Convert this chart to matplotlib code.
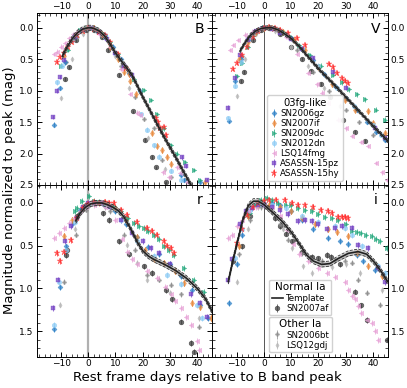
import numpy as np
import matplotlib
matplotlib.use('Agg')
import matplotlib.pyplot as plt
from matplotlib.ticker import MultipleLocator, FormatStrFormatter

bands = ['B', 'V', 'r', 'i']

# templates (normal Ia), day vs mag
tmpl_B = [(-9.5, 0.45), (-8, 0.32), (-6, 0.18), (-4, 0.08), (-2, 0.02), (0, 0.0), (1, 0.0), (2, 0.01),
          (4, 0.05), (6, 0.13), (8, 0.26), (10, 0.40), (12, 0.52), (14, 0.63), (16, 0.75), (18, 0.92),
          (20, 1.10), (22, 1.26), (25, 1.51), (28, 1.75), (30, 1.90), (33, 2.13), (35, 2.29), (38, 2.52)]
tmpl_V = [(-8.8, 0.37), (-7, 0.24), (-5, 0.12), (-3, 0.05), (-1, 0.01), (1, 0.0), (3, 0.0), (5, 0.03),
          (7, 0.08), (10, 0.17), (13, 0.30), (16, 0.45), (20, 0.65), (25, 0.87), (30, 1.10), (35, 1.33),
          (40, 1.56), (45.5, 1.80)]
tmpl_r = [(-4.6, 0.21), (-3, 0.12), (-1, 0.05), (1, 0.01), (3, 0.0), (5, 0.0), (7, 0.02), (9, 0.05),
          (11, 0.09), (13, 0.16), (15, 0.27), (16.5, 0.36), (18, 0.46), (20, 0.56), (22, 0.62), (24, 0.66),
          (28, 0.72), (32, 0.79), (36, 0.88), (40, 1.0), (43, 1.12), (45.5, 1.27)]
tmpl_i = [(-13.1, 0.92), (-11.3, 0.66), (-9.4, 0.41), (-7.6, 0.18), (-5.7, 0.03), (-3.9, -0.02),
          (-2.1, -0.02), (0, 0.02), (2.8, 0.10), (6.5, 0.21), (10.2, 0.35), (13.2, 0.49), (15.7, 0.61),
          (18.1, 0.68), (21.2, 0.72), (24.2, 0.71), (27.3, 0.65), (31, 0.59), (34.6, 0.57), (37.7, 0.60),
          (40.7, 0.70), (43.2, 0.81), (45.4, 0.92)]
tmpl_err = {'B': 0.04, 'V': 0.03, 'r': 0.03, 'i': 0.03}

# 03fg-like
sn2006gz_B = [(-12.7, 1.54), (-10.5, 0.96), (-8.5, 0.55), (-6, 0.2), (-3, 0.05), (0, 0.0), (3, 0.03), (6, 0.12),
              (9, 0.3), (12, 0.5), (15, 0.72), (19, 1.0), (33.9, 2.34), (35.2, 2.42), (41, 2.45)]
sn2006gz_V = [(-12.8, 1.48), (-10.5, 0.85), (-8.5, 0.5), (-6, 0.2), (-3, 0.06), (0, 0.01), (3, 0.0), (6, 0.05),
              (10, 0.16), (14, 0.33), (18, 0.52), (22, 0.74), (26, 0.93), (30, 1.12), (34, 1.3), (38, 1.5),
              (41.2, 1.65), (44.3, 1.78)]
sn2006gz_r = [(-12.6, 1.48), (-10.4, 0.99), (-8.3, 0.51), (-6, 0.25), (-3, 0.08), (0, 0.02), (3, 0.0), (6, 0.02),
              (10, 0.1), (14, 0.25), (18, 0.4), (22, 0.52), (26, 0.6), (30, 0.72), (34, 0.85), (38, 1.02),
              (41.2, 1.2), (44, 1.35)]
sn2006gz_i = [(-12.8, 1.17), (-10, 0.72), (-8.2, 0.37), (-6, 0.15), (-3, 0.03), (0, 0.0), (3, 0.0), (6, 0.03),
              (10, 0.1), (14, 0.2), (18, 0.3), (23.6, 0.41), (28, 0.45), (31, 0.48), (34, 0.61), (36.5, 0.68),
              (40.7, 0.78), (43.8, 0.84)]

sn2007if_B = [(-9, 0.45), (-6, 0.2), (-2, 0.03), (2, 0.0), (5, 0.1), (8, 0.3), (11, 0.5), (13.3, 0.7),
              (14.8, 0.74), (15.4, 0.85), (17.4, 1.05), (23.4, 1.67), (25.2, 1.88), (27.2, 1.95), (29, 2.05),
              (30.2, 2.16), (43, 2.45)]
sn2007if_V = [(-9, 0.5), (-6, 0.22), (-3, 0.07), (0, 0.0), (3, 0.0), (7, 0.07), (11, 0.19), (15, 0.36),
              (20, 0.62), (25, 0.9), (29.7, 1.15), (33.4, 1.3), (38.2, 1.33), (40, 1.51), (44.4, 1.67)]
sn2007if_r = [(-8.9, 0.39), (-6, 0.2), (-2, 0.05), (2, 0.0), (6, 0.0), (10, 0.06), (14, 0.2), (18, 0.4),
              (21, 0.55), (24.1, 0.66), (27.8, 0.7), (32, 0.8), (35.1, 0.94), (38.2, 1.17), (41, 1.22),
              (44.9, 1.35)]
sn2007if_i = [(-9, 0.5), (-6, 0.15), (-2, 0.03), (2, 0.02), (6, 0.05), (10, 0.1), (14, 0.18), (18.7, 0.25),
              (23.6, 0.31), (27, 0.34), (31, 0.39), (34, 0.59), (38.3, 0.74), (43.2, 0.86)]

sn2009dc_B = [(-10, 0.6), (-7.5, 0.35), (-5, 0.12), (-3, 0.04), (-1, 0.0), (1, 0.0), (3, 0.02), (5, 0.08),
              (8, 0.22), (11, 0.42), (14, 0.62), (16.8, 0.81), (20.4, 0.99), (22.9, 1.15), (25.3, 1.37),
              (27.8, 1.6), (30.2, 1.87), (32.7, 2.0), (35.7, 2.13), (38.8, 2.26), (41.2, 2.42)]
sn2009dc_V = [(-10, 0.77), (-8.2, 0.56), (-6, 0.3), (-4, 0.13), (-2, 0.04), (0, -0.01), (2, -0.02), (4, 0.0),
              (7, 0.06), (10, 0.15), (13, 0.27), (16.8, 0.43), (21, 0.6), (25.3, 0.75), (28.5, 0.87),
              (31.4, 0.98), (34, 1.06), (37, 1.14), (41, 1.3), (44.5, 1.46)]
sn2009dc_r = [(-5, 0.1), (-4, 0.06), (-2.2, -0.02), (0.2, -0.08), (2, -0.02), (4, -0.01), (6, 0.0), (9, 0.04),
              (12, 0.1), (14.5, 0.18), (16.8, 0.23), (18.5, 0.27), (20.4, 0.29), (22, 0.33), (24.1, 0.37),
              (26, 0.42), (27.8, 0.51), (29.5, 0.55), (31.4, 0.61), (35.1, 0.76), (38.8, 0.9), (42.4, 1.04)]
sn2009dc_i = [(-5.1, 0.12), (-3, 0.02), (-1, -0.03), (1, -0.06), (3, -0.03), (5.3, 0.0), (8, 0.02), (10, 0.03),
              (12.6, 0.06), (15, 0.08), (17.5, 0.1), (20, 0.13), (22.4, 0.16), (25, 0.18), (27.3, 0.2),
              (30, 0.25), (32.2, 0.33), (34, 0.34), (35.8, 0.35), (37.5, 0.37), (39.5, 0.39), (41, 0.42),
              (42.6, 0.45), (45, 0.53)]

sn2012dn_B = [(-11.4, 0.87), (-9.8, 0.6), (-6, 0.2), (-2, 0.03), (2, 0.01), (6, 0.15), (10, 0.4), (13, 0.62),
              (19.2, 1.37), (21.5, 1.62), (24.1, 1.87), (26, 2.05), (30.2, 2.27), (34, 2.42)]
sn2012dn_V = [(-13.1, 1.43), (-10.6, 0.93), (-8.5, 0.55), (-5, 0.15), (-1, 0.01), (3, 0.0), (8, 0.1),
              (14, 0.32), (20, 0.6), (27, 0.95), (33, 1.25), (40, 1.55), (43, 1.7)]
sn2012dn_r = [(-12.6, 1.43), (-10.8, 0.92), (-8.3, 0.55), (-5, 0.22), (-2, 0.06), (2, 0.0), (6, 0.03),
              (12, 0.2), (18, 0.45), (24, 0.62), (29, 0.84), (34, 0.95), (40, 1.19), (41.8, 1.35)]
sn2012dn_i = [(-10.6, 0.64), (-8, 0.3), (-5, 0.08), (-1, 0.01), (3, 0.02), (8, 0.06), (14, 0.15), (20, 0.22),
              (26, 0.27), (29.7, 0.29), (32.2, 0.37), (36, 0.5), (42, 0.74), (44.4, 0.82)]

lsq14fmg_B = [(-12.6, 0.42), (-11.5, 0.38), (-10, 0.3), (-8.5, 0.24), (-7, 0.17), (-5.5, 0.1), (-4, 0.06),
              (4, 0.1), (8, 0.3), (12, 0.65), (15.5, 1.05), (17.8, 1.35), (19, 1.38), (27.5, 2.3),
              (29.5, 2.38), (32.5, 2.22), (33.7, 2.31), (36.2, 2.45)]
lsq14fmg_V = [(-12.5, 0.35), (-11.3, 0.27), (-9.4, 0.19), (-7, 0.11), (-4.5, 0.06), (-2, 0.02), (3, 0.02),
              (8, 0.15), (12, 0.42), (16.3, 0.72), (19.3, 0.9), (21.2, 1.03), (23.6, 1.19), (27.3, 1.46),
              (30, 1.6), (32.2, 1.72), (35.8, 1.82), (38.3, 1.88), (41.3, 2.15), (43.2, 2.3), (45, 2.42)]
lsq14fmg_r = [(-12.6, 0.41), (-10.8, 0.35), (-8.9, 0.29), (-7.1, 0.23), (-5.3, 0.18), (-3, 0.1), (-1, 0.05),
              (2, 0.02), (6, 0.05), (10, 0.2), (12.5, 0.42), (14.3, 0.57), (16.1, 0.66), (18, 0.72),
              (21.7, 0.8), (25.3, 0.88), (28, 0.98), (30.2, 1.07), (32, 1.15), (33.9, 1.23), (35.8, 1.33),
              (37.6, 1.43), (40, 1.62), (40.6, 1.72)]
lsq14fmg_i = [(-13.1, 0.41), (-11.9, 0.37), (-10, 0.27), (-8.2, 0.2), (-5.7, 0.1), (-3, 0.05), (0, 0.03),
              (3, 0.05), (6, 0.15), (8.5, 0.32), (10.8, 0.48), (13, 0.6), (16.3, 0.68), (20, 0.76), (23, 0.82),
              (26, 0.87), (29.7, 0.92), (31, 1.02), (32.2, 1.09), (33.4, 1.13), (34.6, 1.21), (35.8, 1.29),
              (37.7, 1.37), (39.5, 1.41), (40.7, 1.5), (42, 1.6)]

asassn15pz_B = [(-12.8, 1.42), (-11.4, 1.0), (-10.2, 0.78), (-8.9, 0.52), (-5, 0.14), (-2, 0.03), (1, 0.0),
                (4, 0.06), (7, 0.18), (10, 0.4), (13, 0.6), (16, 0.75), (34.4, 2.06), (36, 2.2), (43.5, 2.42)]
asassn15pz_V = [(-13.3, 1.27), (-10.6, 0.8), (-8.8, 0.43), (-6, 0.2), (-3, 0.05), (0, 0.0), (3, 0.02),
                (6, 0.08), (10, 0.18), (14, 0.33), (18, 0.48), (25.3, 0.7), (30, 0.95), (40.6, 1.59),
                (44.3, 1.75)]
asassn15pz_r = [(-12.8, 1.23), (-11.1, 0.9), (-8.5, 0.45), (-6.5, 0.27), (-4, 0.18), (-2, 0.05), (0, 0.0),
                (2, 0.0), (5, 0.0), (8, 0.05), (12, 0.2), (16, 0.35), (20, 0.45), (22.9, 0.53), (25.9, 0.59),
                (30, 0.72), (37.6, 1.07), (41.2, 1.17), (43.7, 1.33)]
asassn15pz_i = [(-13.3, 0.9), (-11.6, 0.66), (-8.8, 0.25), (-6.5, 0.1), (-4.5, 0.06), (-2, 0.02), (0, 0.02),
                (3, 0.05), (5.9, 0.08), (9, 0.13), (12.6, 0.21), (15, 0.2), (17.5, 0.21), (20, 0.25),
                (23, 0.31), (26, 0.29), (28.5, 0.27), (32.2, 0.29), (34.6, 0.49), (38.3, 0.53), (42, 0.76),
                (44.4, 0.92)]

asassn15hy_B = [(-11.4, 0.54), (-10.5, 0.46), (-9, 0.4), (-7.5, 0.3), (-6, 0.22), (-4, 0.12), (-2, 0.05),
                (0, 0.01), (2, 0.02), (4, 0.06), (6, 0.12), (8, 0.23), (11, 0.42), (14, 0.64), (24.7, 1.44),
                (25.5, 1.5), (26.5, 1.6), (27.8, 1.58), (28.4, 1.71)]
asassn15hy_V = [(-11.3, 0.66), (-10, 0.56), (-8.2, 0.43), (-6.4, 0.3), (-4, 0.14), (-2, 0.05), (0, 0.01),
                (2, -0.01), (4, 0.0), (6, 0.03), (9, 0.08), (12, 0.16), (15, 0.27), (24, 0.58), (25.5, 0.63),
                (27, 0.72), (28.5, 0.8), (29.7, 0.84), (31, 0.88)]
asassn15hy_r = [(-11.4, 0.59), (-10.2, 0.68), (-8.9, 0.57), (-6.5, 0.43), (-4, 0.18), (-2, 0.06), (0, 0.01),
                (2, -0.01), (4, 0.0), (6, -0.01), (7.5, 0.0), (9.4, 0.0), (12, 0.08), (14.3, 0.14),
                (18, 0.22), (21.7, 0.29), (23.5, 0.33), (25.3, 0.37), (27.8, 0.45), (29, 0.5), (30.2, 0.53),
                (31.4, 0.59)]
asassn15hy_i = [(-10, 0.47), (-8.2, 0.31), (-6.4, 0.14), (-4, 0.05), (-2, 0.0), (0, -0.02), (2, -0.03),
                (4.6, -0.04), (7.7, -0.04), (10.2, 0.0), (12.5, 0.02), (15, 0.03), (18, 0.05), (21, 0.08),
                (23.6, 0.1), (25, 0.12), (27.3, 0.16), (28.5, 0.17), (29.7, 0.16), (31, 0.18)]

# normal Ia
sn2007af_B = [(-8.4, 0.81), (-7.2, 0.62), (-4.4, 0.19), (-1, 0.03), (2, 0.03), (5, 0.15), (7.4, 0.35),
              (11.3, 0.75), (16.4, 1.33), (20.7, 1.79), (23.5, 2.06), (25, 2.22), (28.4, 2.46)]
sn2007af_V = [(-8.3, 0.85), (-7.3, 0.7), (-4, 0.2), (-1, 0.03), (2, 0.0), (6, 0.1), (10, 0.3), (14, 0.5),
              (17.4, 0.68), (21, 0.9), (24.2, 1.1), (29, 1.46), (33.3, 1.66), (37, 1.8)]
sn2007af_r = [(-8.3, 0.61), (-7.7, 0.55), (-4, 0.15), (-1, 0.03), (3, 0.0), (5.5, 0.12), (7.6, 0.2),
              (11.3, 0.45), (15, 0.6), (20.4, 0.74), (23.5, 0.82), (28.4, 1.02), (30.8, 1.13), (33.9, 1.39),
              (37.6, 1.64), (38.8, 1.74)]
sn2007af_i = [(-11.3, 0.68), (-8.2, 0.51), (-5, 0.15), (-2, 0.03), (1, 0.05), (4, 0.18), (5.9, 0.27),
              (8, 0.36), (10.2, 0.45), (14, 0.58), (17.5, 0.63), (20, 0.65), (23, 0.61), (24.8, 0.63),
              (28, 0.72), (33.4, 1.04), (35.5, 1.2), (37.7, 1.37), (45, 1.6)]

# other Ia
sn2006bt_B = [(-8, 0.55), (-4, 0.15), (0, 0.02), (5, 0.12), (12, 0.6), (17, 1.1), (20.3, 1.45), (24, 1.6),
              (27, 2.1), (30.2, 2.37)]
sn2006bt_V = [(-8, 0.45), (-4, 0.1), (0, 0.0), (5, 0.05), (12, 0.35), (18, 0.7), (24, 1.0), (30, 1.3),
              (35, 1.5), (40, 1.7)]
sn2006bt_r = [(-8.9, 0.92), (-4.6, 0.37), (-1, 0.08), (3, 0.0), (8, 0.1), (13.1, 0.37), (17, 0.55),
              (21.7, 0.84), (26, 0.9), (30.2, 0.96), (33.9, 1.07), (40.6, 1.45)]
sn2006bt_i = [(-9, 0.6), (-5, 0.2), (-1, 0.05), (3, 0.1), (6, 0.25), (8.9, 0.43), (13.8, 0.59), (17, 0.66),
              (21.2, 0.68), (26, 0.67), (29.7, 0.68), (32.2, 0.7), (34.6, 0.9), (38, 1.05), (42.6, 1.19)]

lsq12gdj_B = [(-9.9, 1.12), (-6, 0.5), (-2, 0.1), (3, 0.05), (10, 0.45), (15, 0.95), (22, 1.75), (28, 2.25)]
lsq12gdj_V = [(-10, 1.09), (-7, 0.5), (-3, 0.1), (4, 0.05), (10, 0.3), (16, 0.6), (22, 0.95), (28, 1.25)]
lsq12gdj_r = [(-10.2, 1.19), (-5, 0.3), (0, 0.05), (6, 0.05), (14.3, 0.49), (18, 0.7), (21.7, 0.9),
              (30, 1.05), (40.6, 1.35)]
lsq12gdj_i = [(-10, 0.92), (-6, 0.3), (-2, 0.05), (3, 0.1), (7, 0.3), (10.2, 0.53), (14.4, 0.74),
              (17.5, 0.82), (25, 0.75), (30, 0.72), (35.2, 0.82), (43.2, 1.02)]

fg_names = ['SN2006gz', 'SN2007if', 'SN2009dc', 'SN2012dn', 'LSQ14fmg', 'ASASSN-15pz', 'ASASSN-15hy']
fg_data = [
    [sn2006gz_B, sn2006gz_V, sn2006gz_r, sn2006gz_i],
    [sn2007if_B, sn2007if_V, sn2007if_r, sn2007if_i],
    [sn2009dc_B, sn2009dc_V, sn2009dc_r, sn2009dc_i],
    [sn2012dn_B, sn2012dn_V, sn2012dn_r, sn2012dn_i],
    [lsq14fmg_B, lsq14fmg_V, lsq14fmg_r, lsq14fmg_i],
    [asassn15pz_B, asassn15pz_V, asassn15pz_r, asassn15pz_i],
    [asassn15hy_B, asassn15hy_V, asassn15hy_r, asassn15hy_i],
]
fg_colors = ['#2a7fc6', '#e8873a', '#1fa67a', '#8ccbf5', '#e7a1d6', '#7442c4', '#ff2b2b']
fg_markers = ['D', 'd', '>', 'o', '<', 's', '*']
fg_ms = [2.6, 3.4, 3.3, 3.3, 3.3, 3.2, 5]

other_names = ['SN2007af', 'SN2006bt', 'LSQ12gdj']
other_data = [
    [sn2007af_B, sn2007af_V, sn2007af_r, sn2007af_i],
    [sn2006bt_B, sn2006bt_V, sn2006bt_r, sn2006bt_i],
    [lsq12gdj_B, lsq12gdj_V, lsq12gdj_r, lsq12gdj_i],
]
other_colors = ['#3c3c3c', '#8c8c8c', '#b8b8b8']
other_markers = ['o', 'P', 'd']
other_ms = [3.3, 2.6, 2.6]

templates = [tmpl_B, tmpl_V, tmpl_r, tmpl_i]

fig = plt.figure(figsize=(4.07, 3.88), dpi=100)
gs = fig.add_gridspec(2, 2, left=0.0897, right=0.953, top=0.9657, bottom=0.0807, wspace=0, hspace=0)
axs = [fig.add_subplot(gs[0, 0]), fig.add_subplot(gs[0, 1]),
       fig.add_subplot(gs[1, 0]), fig.add_subplot(gs[1, 1])]

handles = {}
for k, ax in enumerate(axs):
    band = bands[k]
    # vertical line at B peak
    if k % 2 == 0:
        ax.axvline(0, color='#b0b0b0', lw=1.6, zorder=1)
    else:
        ax.axvline(0, color='#555555', lw=0.7, zorder=1)

    for j, name in enumerate(other_names):
        t, m = np.array(other_data[j][k]).T
        h = ax.errorbar(t, m, yerr=0.03, fmt=other_markers[j], color=other_colors[j], ms=other_ms[j],
                        alpha=0.75, elinewidth=0.7, capsize=0, mew=0.5, zorder=2)
        handles[name] = h

    for j, name in enumerate(fg_names):
        t, m = np.array(fg_data[j][k]).T
        h = ax.errorbar(t, m, yerr=0.035, fmt=fg_markers[j], color=fg_colors[j], ms=fg_ms[j],
                        alpha=0.75, elinewidth=0.7, capsize=0, mew=0.3, zorder=2)
        handles[name] = h

    t, m = np.array(templates[k]).T
    e = tmpl_err[band]
    ax.fill_between(t, m - e, m + e, color='#9a9a9a', alpha=0.55, lw=0, zorder=3)
    ax.plot(t, m - e, color='#333333', ls='--', lw=0.6, zorder=3)
    ax.plot(t, m + e, color='#333333', ls='--', lw=0.6, zorder=3)
    ln, = ax.plot(t, m, color='#222222', lw=1.2, zorder=4)
    handles['Template'] = ln

    ax.set_xlim(-19, 45.5)
    if k < 2:
        ax.set_ylim(2.5, -0.23)
        ax.yaxis.set_major_locator(MultipleLocator(0.5))
    else:
        ax.set_ylim(1.8, -0.21)
        ax.set_yticks([0.0, 0.5, 1.0, 1.5])
    ax.yaxis.set_minor_locator(MultipleLocator(0.1))
    ax.set_xticks([-10, 0, 10, 20, 30, 40])
    ax.xaxis.set_minor_locator(MultipleLocator(2))
    ax.tick_params(which='both', direction='in', top=True, right=True, labelsize=6.5, pad=2,
                   labeltop=(k < 2), labelbottom=(k >= 2),
                   labelleft=(k % 2 == 0), labelright=(k % 2 == 1))
    ax.tick_params(which='major', length=3.5, width=0.7)
    ax.tick_params(which='minor', length=2, width=0.5)
    ax.yaxis.set_major_formatter(FormatStrFormatter('%.1f'))
    for s in ax.spines.values():
        s.set_linewidth(0.7)
    ax.text(0.93, 0.91, band, transform=ax.transAxes, fontsize=10, ha='center', va='center')

leg1 = axs[1].legend([handles[n] for n in fg_names], fg_names, title='03fg-like', loc='lower left',
                     bbox_to_anchor=(0.29, 0.0), fontsize=6.2, title_fontsize=7.2, handlelength=0.9,
                     handletextpad=0.3, labelspacing=0.12, borderpad=0.3, framealpha=0.9,
                     edgecolor='#cccccc')

leg2 = axs[3].legend([handles['Template'], handles['SN2007af']], ['Template', 'SN2007af'], title='Normal Ia',
                     loc='lower left', bbox_to_anchor=(0.3, 0.215), fontsize=6.2, title_fontsize=7.5,
                     handlelength=1.3, handletextpad=0.4, labelspacing=0.15, borderpad=0.3, framealpha=0.9,
                     edgecolor='#cccccc')
axs[3].add_artist(leg2)
leg3 = axs[3].legend([handles['SN2006bt'], handles['LSQ12gdj']], ['SN2006bt', 'LSQ12gdj'], title='Other Ia',
                     loc='lower left', bbox_to_anchor=(0.3, 0.0), fontsize=6.2, title_fontsize=7.5,
                     handlelength=1.3, handletextpad=0.4, labelspacing=0.15, borderpad=0.3, framealpha=0.9,
                     edgecolor='#cccccc')

fig.text(0.024, 0.51, 'Magnitude normalized to peak (mag)', rotation=90, ha='center', va='center', fontsize=9.5)
fig.text(0.51, 0.026, 'Rest frame days relative to B band peak', ha='center', va='center', fontsize=9.5)

fig.savefig('out.png', dpi=100)
